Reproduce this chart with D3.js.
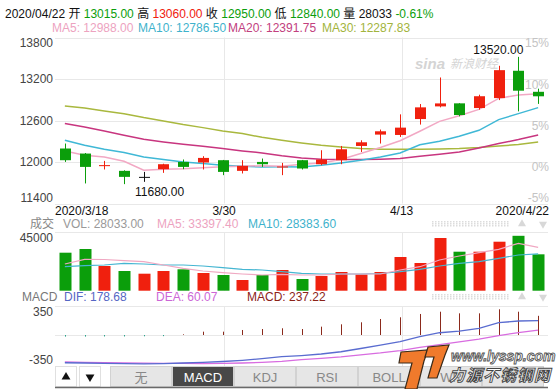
<!DOCTYPE html>
<html>
<head>
<meta charset="utf-8">
<script src="https://cdn.jsdelivr.net/npm/d3@7"></script>
<style>
body { margin: 0; background: #fff; }
svg { display: block; font-family: "Liberation Sans", Arial, "Noto Sans CJK SC", sans-serif; }
</style>
</head>
<body>
<div id="chart"></div>
<script>
// daily data, 2020/3/18 .. 2020/4/22
var dates = ["3/18","3/19","3/20","3/23","3/24","3/25","3/26","3/27","3/30","3/31","4/1","4/2","4/3",
             "4/7","4/8","4/9","4/10","4/13","4/14","4/15","4/16","4/17","4/20","4/21","4/22"];
var open  = [12195,12122,11940,11872,11785,11896,12001,11993,12026,11872,12001,11925,12026,
             11968,12026,12232,12396,12391,12621,12804,12848,12780,12924,13319,13015];
var high  = [12267,12130,12016,11880,11857,11975,12036,12084,12030,12026,12050,11987,12030,
             12170,12232,12314,12469,12689,12838,13222,12850,12973,13391,13520,13060];
var low   = [12001,11690,11892,11680,11713,11843,11896,11892,11810,11834,11929,11810,11892,
             11954,11968,12145,12267,12362,12541,12790,12660,12757,12895,12732,12840];
var close = [12026,11929,11955,11785,11785,11968,11929,12059,11857,11944,11968,11935,11906,
             12036,12184,12285,12444,12497,12790,12847,12679,12951,13328,13031,12950];

var ma5  = [12160,12098,12073,12011,11880,11895,11903,11918,11932,11939,11947,11939,11968,
            11987,12036,12122,12209,12307,12444,12588,12668,12761,12920,12970,12988];
var ma10 = [12314,12242,12184,12137,12073,12036,12001,11978,11954,11939,11929,11932,11929,
            11954,11987,12026,12073,12131,12250,12300,12372,12458,12613,12699,12786.5];
var ma20 = [12555,12506,12448,12386,12329,12290,12257,12228,12195,12160,12131,12091,12059,
            12040,12036,12036,12040,12050,12084,12112,12145,12203,12267,12324,12391.75];
var ma30 = [12809,12780,12737,12699,12642,12593,12541,12497,12448,12411,12357,12314,12275,
            12242,12218,12195,12184,12184,12184,12189,12195,12209,12232,12252,12287.83];

var volume  = [29280,32130,19030,15180,13100,15180,16490,13640,12100,8240,12100,15950,9010,
               11330,14410,12480,14410,25970,21340,40600,30050,30050,37750,42300,28033];
var volMa5  = [20570,24190,24040,23120,22340,19800,17260,15180,13870,12870,12100,12640,12100,
               12100,12870,12870,12870,15950,18490,23650,26740,29280,31900,36520,33397.4];
var volMa10 = [18490,19260,19800,21110,20570,19800,19800,19030,17720,16490,15950,14640,13410,
               12870,12870,12870,13250,14640,16490,19030,21110,22340,24960,27510,28383.6];

var dif  = [-343,-346,-350,-354,-356,-353,-346,-338,-328,-313,-293,-268,-254,
            -235,-207,-167,-124,-83,-21,28,49,83,152,173,178.68];
var dea  = [-333,-338,-342,-346,-349,-351,-352,-353,-351,-346,-338,-325,-305,
            -288,-270,-245,-222,-192,-152,-118,-85,-50,-8,30,60.07];
var macd = [-20,-20,-18,-18,-16,-14,8,41,41,62,74,83,74,
            103,132,157,198,219,260,288,268,268,318,288,237.22];

var priceTicks = [13800, 13200, 12600, 12000, 11400];
var pctTicks = [15, 10, 5, 0, -5];
var pctBase = 11925;
var volTicks = [45000];
var macdTicks = [350, -350];
var dateTickIdx = [0, 8, 17, 24];
var dateTickLabels = ["2020/3/18", "3/30", "4/13", "2020/4/22"];
var gridIdx = [8, 17];
var tabs = ["无", "MACD", "KDJ", "RSI", "BOLL", "WR", ""];

var RED = "#f0200e", GREEN = "#0b9e0b";

function init() {
    d3.select("svg").remove();
    var W = 560, H = 389;
    var left = 55, right = 548;
    var price = { top: 37.5, bottom: 203.5 };
    var vol = { top: 232.3, bottom: 290.7 };
    var mc = { top: 306.7, bottom: 366 };

    var svg = d3.select("#chart").append("svg")
        .attr("width", W).attr("height", H);

    var x = d3.scaleBand().domain(d3.range(dates.length)).range([left, right]);
    var xc = function (i) { return x(i) + x.bandwidth() / 2; };
    var bw = Math.round(x.bandwidth() * 0.56);

    var y = d3.scaleLinear().domain([11400, 13800]).range([price.bottom, price.top]);
    var yv = d3.scaleLinear().domain([0, 45000]).range([vol.bottom, vol.top]);
    var ym = d3.scaleLinear().domain([-350, 350]).range([363.3, mc.top]);

    var col = function (i) {
        if (close[i] > open[i]) return RED;
        if (close[i] < open[i]) return GREEN;
        return "#111";
    };

    // ---- header text
    var head = svg.append("text").attr("x", 5).attr("y", 18).attr("font-size", 12);
    var parts = [["2020/04/22 开 ", "#111"], ["13015.00", GREEN], [" 高 ", "#111"], ["13060.00", RED],
                 [" 收 ", "#111"], ["12950.00", GREEN], [" 低 ", "#111"], ["12840.00", GREEN],
                 [" 量 28033 ", "#111"], ["-0.61%", GREEN]];
    parts.forEach(function (p) {
        head.append("tspan").attr("fill", p[1]).style("white-space", "pre").text(p[0]);
    });

    var legend = function (items, yy) {
        items.forEach(function (it) {
            svg.append("text").attr("x", it[0]).attr("y", yy).attr("font-size", 12)
                .attr("fill", it[2]).text(it[1]);
        });
    };
    legend([[52, "MA5: 12988.00", "#eda3bf"], [138, "MA10: 12786.50", "#3eb2cc"],
            [228, "MA20: 12391.75", "#c2407e"], [322, "MA30: 12287.83", "#a2b43c"]], 32);
    legend([[30, "成交", "#888"], [63, "VOL: 28033.00", "#999"],
            [157, "MA5: 33397.40", "#eda3bf"], [248, "MA10: 28383.60", "#3eb2cc"]], 227.5);
    legend([[22, "MACD", "#777"], [64, "DIF: 178.68", "#5566c4"],
            [156, "DEA: 60.07", "#cc66d6"], [247, "MACD: 237.22", "#8b2318"]], 301);

    // ---- grid
    var grid = svg.append("g").attr("stroke", "#e8e8e8").attr("stroke-width", 1);
    priceTicks.forEach(function (t) {
        var yy = Math.round(y(t)) + 0.5;
        grid.append("line").attr("x1", left).attr("x2", right).attr("y1", yy).attr("y2", yy);
    });
    grid.append("line").attr("x1", left).attr("x2", right)
        .attr("y1", Math.round(yv(45000)) + 0.5).attr("y2", Math.round(yv(45000)) + 0.5);
    grid.append("line").attr("x1", left).attr("x2", right).attr("y1", 306.5).attr("y2", 306.5);
    grid.append("line").attr("x1", left).attr("x2", right)
        .attr("y1", Math.round(ym(0)) + 0.5).attr("y2", Math.round(ym(0)) + 0.5);
    gridIdx.forEach(function (i) {
        var xx = Math.round(xc(i) + 1.5) + 0.5;
        [[price.top, price.bottom], [vol.top, vol.bottom], [mc.top, mc.bottom]].forEach(function (r) {
            grid.append("line").attr("x1", xx).attr("x2", xx).attr("y1", r[0]).attr("y2", r[1]);
        });
    });

    // ---- axis labels
    var clampLabel = function (yy, top, bottom) { return Math.max(top + 9.5, Math.min(bottom - 1.5, yy + 4)); };
    priceTicks.forEach(function (t) {
        svg.append("text").attr("x", 53).attr("y", clampLabel(y(t), price.top, price.bottom))
            .attr("text-anchor", "end").attr("font-size", 12).attr("fill", "#444").text(t);
    });
    pctTicks.forEach(function (p) {
        svg.append("text").attr("x", 549).attr("y", clampLabel(y(pctBase * (1 + p / 100)), price.top, price.bottom))
            .attr("text-anchor", "end").attr("font-size", 12).attr("fill", "#c4c4c4").text(p + "%");
    });
    volTicks.forEach(function (t) {
        svg.append("text").attr("x", 53).attr("y", clampLabel(yv(t), vol.top, vol.bottom))
            .attr("text-anchor", "end").attr("font-size", 12).attr("fill", "#444").text(t);
    });
    macdTicks.forEach(function (t) {
        svg.append("text").attr("x", 53).attr("y", clampLabel(ym(t), mc.top, 365))
            .attr("text-anchor", "end").attr("font-size", 12).attr("fill", "#444").text(t);
    });
    dateTickIdx.forEach(function (i, k) {
        var anchor = k === 0 ? "start" : (k === dateTickIdx.length - 1 ? "end" : "middle");
        var xx = k === 0 ? left : (k === dateTickIdx.length - 1 ? right + 1 : xc(i) + 1.5);
        svg.append("text").attr("x", xx).attr("y", 215).attr("text-anchor", anchor)
            .attr("font-size", 12).attr("fill", "#111").text(dateTickLabels[k]);
    });

    // sina watermark
    svg.append("text").attr("x", 415).attr("y", 69).attr("font-size", 15).attr("font-style", "italic")
        .attr("font-weight", "bold").attr("fill", "#d4d4d4").text("sina");
    svg.append("text").attr("x", 450).attr("y", 68).attr("font-size", 12).attr("font-style", "italic")
        .attr("fill", "#d4d4d4").text("新浪财经");

    // ---- MA lines
    var lineP = function (arr, color, w) {
        svg.append("path").datum(arr)
            .attr("fill", "none").attr("stroke", color).attr("stroke-width", w)
            .attr("d", d3.line().x(function (d, i) { return xc(i); }).y(function (d) { return y(d); }));
    };
    lineP(ma30, "#a9b83e", 1.5);
    lineP(ma20, "#c8357f", 1.5);
    lineP(ma10, "#3fb8d6", 1.5);
    lineP(ma5, "#f2a8c4", 1.5);

    // ---- candles
    var cg = svg.append("g");
    dates.forEach(function (d, i) {
        var cx = Math.round(xc(i)) + 0.5;
        cg.append("line").attr("x1", cx).attr("x2", cx)
            .attr("y1", y(high[i])).attr("y2", y(low[i]))
            .attr("stroke", col(i)).attr("stroke-width", 1);
        var y0 = y(Math.max(open[i], close[i])), y1 = y(Math.min(open[i], close[i]));
        cg.append("rect").attr("x", Math.round(xc(i)) - (bw - 1) / 2).attr("width", bw)
            .attr("y", y0).attr("height", Math.max(1, y1 - y0))
            .attr("fill", col(i));
    });

    // min / max labels
    var iMax = d3.maxIndex(high), iMin = d3.minIndex(low);
    svg.append("text").attr("x", xc(iMax) + 5).attr("y", y(high[iMax]) - 3)
        .attr("text-anchor", "end").attr("font-size", 12).attr("fill", "#111").text(high[iMax].toFixed(2));
    svg.append("text").attr("x", xc(iMin) + 11).attr("y", y(low[iMin]) + 12)
        .attr("font-size", 12).attr("fill", "#111").text(low[iMin].toFixed(2));

    // ---- volume
    var vbw = Math.round(x.bandwidth() * 0.6);
    svg.append("g").selectAll("rect").data(volume).enter().append("rect")
        .attr("x", function (d, i) { return Math.round(xc(i)) - (vbw - 1) / 2; })
        .attr("width", vbw)
        .attr("y", function (d) { return yv(d); })
        .attr("height", function (d) { return vol.bottom - yv(d); })
        .attr("fill", function (d, i) { return close[i] >= open[i] ? RED : GREEN; });
    var lineV = function (arr, color) {
        svg.append("path").datum(arr)
            .attr("fill", "none").attr("stroke", color).attr("stroke-width", 1.2)
            .attr("d", d3.line().x(function (d, i) { return xc(i); }).y(function (d) { return yv(d); }));
    };
    lineV(volMa10, "#45b6d2");
    lineV(volMa5, "#f0a8c2");

    // ---- MACD
    svg.append("g").selectAll("line").data(macd).enter().append("line")
        .attr("x1", function (d, i) { return Math.round(xc(i)) + 0.5; })
        .attr("x2", function (d, i) { return Math.round(xc(i)) + 0.5; })
        .attr("y1", ym(0))
        .attr("y2", function (d) { return ym(d); })
        .attr("stroke", function (d) { return d >= 0 ? "#8b2a1c" : "#2aa38c"; })
        .attr("stroke-width", 1);
    var lineM = function (arr, color) {
        svg.append("path").datum(arr)
            .attr("fill", "none").attr("stroke", color).attr("stroke-width", 1.3)
            .attr("d", d3.line().x(function (d, i) { return xc(i); }).y(function (d) { return ym(d); }));
    };
    lineM(dea, "#d86ce0");
    lineM(dif, "#5a6cd0");

    // ---- scroll hints (dotted bars + arrows)
    [221, 294].forEach(function (yy) {
        for (var k = 0; k < 26; k++) {
            for (var r = 0; r < 3; r++) {
                svg.append("rect").attr("x", 432 + k * 3).attr("y", yy + r * 2)
                    .attr("width", 1.5).attr("height", 1.5).attr("fill", "#dcdcdc");
            }
        }
        svg.append("path").attr("d", d3.symbol(d3.symbolTriangle, 28)())
            .attr("transform", "translate(522," + (yy + 3) + ")").attr("fill", "#d8d8d8");
        svg.append("path").attr("d", d3.symbol(d3.symbolTriangle, 28)())
            .attr("transform", "translate(543," + (yy + 3) + ") rotate(180)").attr("fill", "#d8d8d8");
    });

    // ---- tab bar
    var tb = svg.append("g");
    [[0, 55], [180, 79]].forEach(function (b) {
        tb.append("rect").attr("x", b[1] + 0.5).attr("y", 366.5).attr("width", 21).attr("height", 20)
            .attr("fill", "#fff").attr("stroke", "#e0e0e0");
        tb.append("path").attr("d", d3.symbol(d3.symbolTriangle, 34)())
            .attr("transform", "translate(" + (b[1] + 11) + ",377) rotate(" + b[0] + ")")
            .attr("fill", "#111");
    });
    tabs.forEach(function (t, k) {
        var tx = 110 + k * 62;
        var active = t === "MACD";
        tb.append("rect").attr("x", tx + 0.5).attr("y", 366.5).attr("width", 61).attr("height", 20)
            .attr("fill", active ? "#484848" : "#e6e6e6").attr("stroke", "#d2d2d2");
        if (t) {
            tb.append("text").attr("x", tx + 31).attr("y", 382).attr("text-anchor", "middle")
                .attr("font-size", 13).attr("fill", active ? "#fff" : "#888").text(t);
        }
    });
    tb.append("line").attr("x1", left).attr("x2", right).attr("y1", 387.5).attr("y2", 387.5)
        .attr("stroke", "#6a6a6a").attr("stroke-width", 1.5);

    // ---- lyssp watermark
    var wm = svg.append("g");
    wm.append("path")
        .attr("d", "M401,352 L428,350 L424,361 L417,389 L405,389 L412,363 L399,363 Z")
        .attr("fill", "#f07a2c").attr("stroke", "#3a2a1a").attr("stroke-width", 1.2);
    wm.append("path")
        .attr("d", "M428,347 L449,345 L445,355 L437,378 L428,378 L434,357 L425,357 Z")
        .attr("fill", "#f07a2c").attr("stroke", "#3a2a1a").attr("stroke-width", 1.2);
    wm.append("text").attr("x", 451).attr("y", 361).attr("font-size", 14).attr("font-weight", "bold")
        .attr("font-style", "italic").attr("fill", "#fff").attr("stroke", "#555").attr("stroke-width", 0.9)
        .text("www.lyssp.com");
    wm.append("text").attr("x", 449).attr("y", 381).attr("font-size", 16).attr("font-weight", "bold")
        .attr("font-style", "italic").attr("fill", "#fff").attr("stroke", "#444").attr("stroke-width", 0.9)
        .attr("letter-spacing", 1).text("力源不锈钢网");
}

window.onload = init;
</script>
</body>
</html>
